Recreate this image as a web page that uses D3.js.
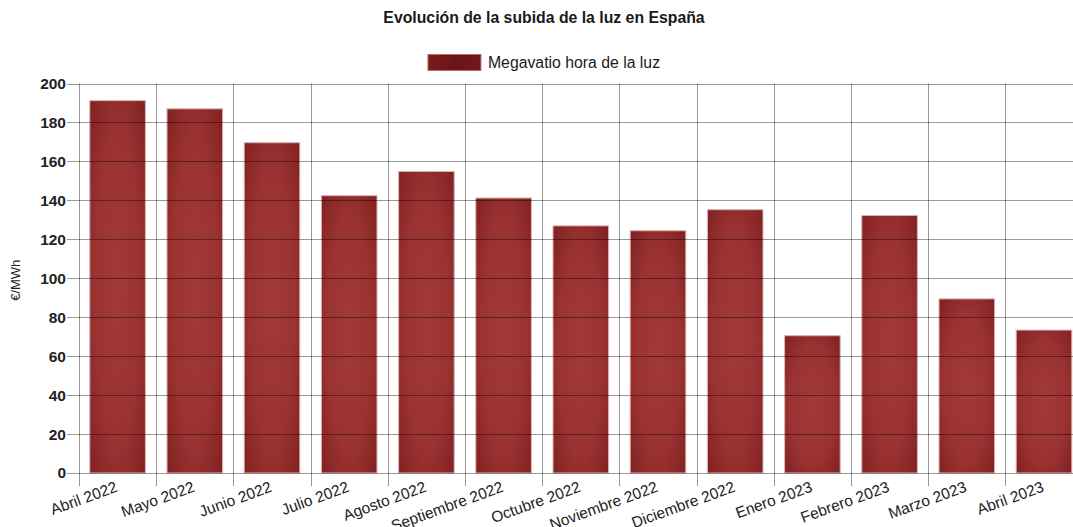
<!DOCTYPE html>
<html>
<head>
<meta charset="utf-8">
<script src="https://cdn.jsdelivr.net/npm/d3@7"></script>
<style>
  html, body { margin: 0; padding: 0; background: #fff; overflow: hidden; }
  svg { display: block; font-family: "Liberation Sans", Arial, sans-serif; }
</style>
</head>
<body>
<svg id="chart" width="1073" height="527"></svg>
<script>
// Monthly wholesale electricity price in Spain (€/MWh)
const months = ["Abril 2022", "Mayo 2022", "Junio 2022", "Julio 2022", "Agosto 2022",
  "Septiembre 2022", "Octubre 2022", "Noviembre 2022", "Diciembre 2022",
  "Enero 2023", "Febrero 2023", "Marzo 2023", "Abril 2023"];
const prices = [191.2, 187.0, 169.6, 142.4, 154.8, 141.2, 126.9, 124.4, 135.2, 70.5, 132.2, 89.4, 73.4];
const yTicks = [0, 20, 40, 60, 80, 100, 120, 140, 160, 180, 200];
const titleText = "Evolución de la subida de la luz en España";
const seriesName = "Megavatio hora de la luz";
const yLabel = "€/MWh";

const svg = d3.select("#chart");
const plot = { left: 79, right: 1082.6, top: 83.5, bottom: 473 };
const centerX = 544;

const x = d3.scaleBand().domain(months).range([plot.left, plot.right]).padding(0);
const y = d3.scaleLinear().domain([0, 200]).range([plot.bottom, plot.top]);
const barFrac = 0.72;

// Bar fill: darker at the edges, lighter in the middle
const defs = svg.append("defs");
const grad = defs.append("radialGradient").attr("id", "barFill")
  .attr("cx", 0.5).attr("cy", 0.5).attr("r", 0.7);
grad.append("stop").attr("offset", "0%").attr("stop-color", "#a33a3a");
grad.append("stop").attr("offset", "60%").attr("stop-color", "#9a3232");
grad.append("stop").attr("offset", "100%").attr("stop-color", "#812121");

const legGrad = defs.append("linearGradient").attr("id", "legFill")
  .attr("x1", 0).attr("x2", 1).attr("y1", 0).attr("y2", 0);
legGrad.append("stop").attr("offset", "0%").attr("stop-color", "#7a1c1c");
legGrad.append("stop").attr("offset", "50%").attr("stop-color", "#6c1414");
legGrad.append("stop").attr("offset", "100%").attr("stop-color", "#741818");

// Title
svg.append("text")
  .attr("x", centerX).attr("y", 23)
  .attr("text-anchor", "middle")
  .attr("font-size", 15.8).attr("font-weight", "bold").attr("fill", "#1a1a1a")
  .text(titleText);

// Legend
const legendText = svg.append("text")
  .attr("y", 67.5)
  .attr("font-size", 15.8).attr("fill", "#1a1a1a")
  .text(seriesName);
const tw = legendText.node().getComputedTextLength();
const boxW = 53, gap = 7;
const legStart = centerX - (boxW + gap + tw) / 2;
svg.append("rect")
  .attr("x", legStart).attr("y", 54.5).attr("width", boxW).attr("height", 16)
  .attr("fill", "url(#legFill)").attr("stroke", "#b07070").attr("stroke-width", 1);
legendText.attr("x", legStart + boxW + gap);

// Bars
svg.append("g").selectAll("rect")
  .data(prices)
  .join("rect")
  .attr("x", (d, i) => x(months[i]) + x.bandwidth() * (1 - barFrac) / 2)
  .attr("width", x.bandwidth() * barFrac)
  .attr("y", d => y(d))
  .attr("height", d => y(0) - y(d))
  .attr("fill", "url(#barFill)")
  .attr("stroke", "#dcb2b2").attr("stroke-width", 1);

// Grid drawn over the bars
const gridColor = "rgba(0,0,0,0.4)";
const grid = svg.append("g");
grid.selectAll("line.h")
  .data(yTicks)
  .join("line").attr("class", "h")
  .attr("x1", plot.left - 12).attr("x2", plot.right)
  .attr("y1", d => Math.round(y(d)) + 0.5).attr("y2", d => Math.round(y(d)) + 0.5)
  .attr("stroke", gridColor).attr("stroke-width", 1);

const edges = months.map(m => x(m)).concat([plot.right]);
grid.selectAll("line.v")
  .data(edges)
  .join("line").attr("class", "v")
  .attr("x1", d => Math.round(d) + 0.5).attr("x2", d => Math.round(d) + 0.5)
  .attr("y1", plot.top).attr("y2", plot.bottom + 13)
  .attr("stroke", gridColor).attr("stroke-width", 1);

// Y axis labels
const yAxis = d3.axisLeft(y).tickValues(yTicks).tickSize(0).tickPadding(13);
const yg = svg.append("g").attr("transform", `translate(${plot.left},0)`).call(yAxis);
yg.select(".domain").remove();
yg.selectAll("text")
  .attr("font-size", 15.5).attr("font-weight", "bold").attr("fill", "#222")
  .attr("font-family", "Liberation Sans, Arial, sans-serif");

// X axis labels, rotated
const xAxis = d3.axisBottom(x).tickSize(0).tickPadding(0);
const xg = svg.append("g").attr("transform", `translate(0,${plot.bottom})`).call(xAxis);
xg.select(".domain").remove();
xg.selectAll("text")
  .attr("font-size", 15.5).attr("fill", "#222")
  .attr("font-family", "Liberation Sans, Arial, sans-serif")
  .attr("text-anchor", "end")
  .attr("dy", "0.35em")
  .attr("y", 0)
  .attr("transform", "translate(-1,13) rotate(-20)");

// Y axis title
svg.append("text")
  .attr("transform", `translate(20,${(plot.top + plot.bottom) / 2 + 2}) rotate(-90)`)
  .attr("text-anchor", "middle")
  .attr("font-size", 13).attr("fill", "#222")
  .text(yLabel);
</script>
</body>
</html>
